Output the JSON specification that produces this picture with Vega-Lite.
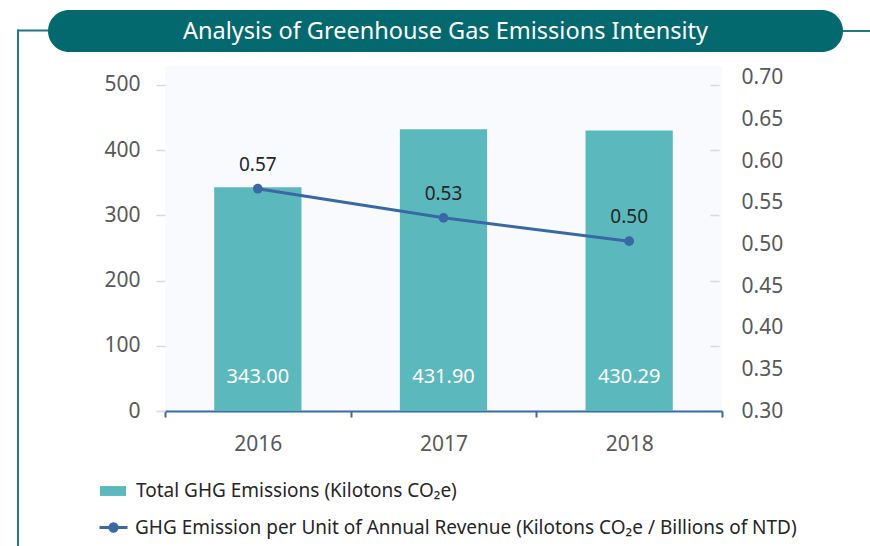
{
  "$schema": "https://vega.github.io/schema/vega-lite/v6.json",
  "background": "white",
  "padding": {"left": 17, "top": 10, "right": 0, "bottom": 0},
  "spacing": 0,
  "config": {
    "view": {"stroke": null},
    "font": "Noto Sans",
    "concat": {"spacing": 0}
  },
  "vconcat": [
    {
      "spacing": 0,
      "hconcat": [
        {
          "width": 31,
          "height": 56,
          "data": {"values": [{"part": "frame"}]},
          "layer": [
            {
              "mark": {"type": "rule", "color": "#20797f", "strokeWidth": 2, "clip": true},
              "encoding": {
                "y": {"datum": 0.6339, "scale": {"domain": [0, 1], "nice": false, "zero": false}, "axis": null},
                "x": {"datum": 0.032, "scale": {"domain": [0, 1], "nice": false, "zero": false}, "axis": null},
                "x2": {"datum": 1.1}
              }
            },
            {
              "mark": {"type": "rule", "color": "#20797f", "strokeWidth": 2, "clip": true},
              "encoding": {
                "x": {"datum": 0.032},
                "y": {"datum": 0.6518},
                "y2": {"datum": -0.1}
              }
            }
          ]
        },
        {
          "width": 795,
          "height": 42,
          "view": {"fill": "#04696f", "cornerRadius": 21, "stroke": null},
          "data": {"values": [{"title": "Analysis of Greenhouse Gas Emissions Intensity"}]},
          "mark": {"type": "text", "color": "white", "fontSize": 23.5, "baseline": "middle", "align": "center", "dy": 1},
          "encoding": {"text": {"field": "title", "type": "nominal"}}
        },
        {
          "width": 27,
          "height": 42,
          "data": {"values": [{"part": "frame"}]},
          "mark": {"type": "rule", "color": "#20797f", "strokeWidth": 2, "clip": true},
          "encoding": {
            "y": {"datum": 0.5, "scale": {"domain": [0, 1], "nice": false, "zero": false}, "axis": null}
          }
        }
      ]
    },
    {
      "spacing": 0,
      "hconcat": [
        {
          "width": 31,
          "height": 480,
          "data": {"values": [{"part": "frame"}]},
          "mark": {"type": "rule", "color": "#20797f", "strokeWidth": 2, "clip": true},
          "encoding": {
            "x": {"datum": 0.032, "scale": {"domain": [0, 1], "nice": false, "zero": false}, "axis": null},
            "y": {"datum": 1.1, "scale": {"domain": [0, 1], "nice": false, "zero": false}, "axis": null},
            "y2": {"datum": -0.1}
          }
        },
        {
          "width": 557,
          "height": 345,
          "view": {"fill": "#f9fafd", "stroke": null},
          "data": {"values": [
            {"year": "2016", "emissions": 343.00, "intensity": 0.567},
            {"year": "2017", "emissions": 431.90, "intensity": 0.532},
            {"year": "2018", "emissions": 430.29, "intensity": 0.504}
          ]},
          "encoding": {
            "x": {
              "field": "year",
              "type": "ordinal",
              "scale": {"paddingInner": 0, "paddingOuter": 0},
              "axis": {
                "title": null,
                "labelAngle": 0,
                "domainColor": "#3b6aa6",
                "domainWidth": 2,
                "tickColor": "#3b6aa6",
                "tickWidth": 2,
                "tickSize": 6,
                "tickBand": "extent",
                "labelFontSize": 21,
                "labelColor": "#595959",
                "labelPadding": 16
              }
            }
          },
          "layer": [
            {
              "layer": [
                {
                  "mark": {"type": "bar", "width": {"band": 0.47}},
                  "encoding": {
                    "y": {
                      "field": "emissions",
                      "type": "quantitative",
                      "scale": {"domain": [0, 529], "nice": false},
                      "axis": {
                        "orient": "left",
                        "title": null,
                        "values": [0, 100, 200, 300, 400, 500],
                        "domain": false,
                        "tickSize": 9,
                        "tickColor": "#d9d9d9",
                        "tickWidth": 1.5,
                        "labelFontSize": 21,
                        "labelColor": "#595959",
                        "labelPadding": 16,
                        "grid": true,
                        "gridColor": "#d9d9d9",
                        "gridWidth": 1.5,
                        "gridDash": [0, 545, 9, 100],
                        "minExtent": 117
                      }
                    },
                    "fill": {
                      "datum": "Total GHG Emissions (Kilotons CO₂e)",
                      "scale": {"range": ["#5bb9bd"]},
                      "legend": {
                        "orient": "none",
                        "legendX": 83,
                        "legendY": 468,
                        "title": null,
                        "padding": 0,
                        "symbolType": "M-1,-0.38H1V0.38H-1Z",
                        "symbolSize": 676,
                        "symbolStrokeWidth": 0,
                        "labelFontSize": 19,
                        "labelColor": "#262626",
                        "labelOffset": 10,
                        "labelLimit": 900
                      }
                    }
                  }
                },
                {
                  "mark": {"type": "text", "dy": -34.5, "color": "white", "fontSize": 20, "baseline": "middle"},
                  "encoding": {
                    "y": {"datum": 0},
                    "text": {"field": "emissions", "type": "quantitative", "format": ".2f"}
                  }
                }
              ]
            },
            {
              "layer": [
                {
                  "mark": {"type": "line", "strokeWidth": 3},
                  "encoding": {
                    "y": {
                      "field": "intensity",
                      "type": "quantitative",
                      "scale": {"domain": [0.3, 0.7144], "nice": false, "zero": false},
                      "axis": {
                        "orient": "right",
                        "title": null,
                        "values": [0.3, 0.35, 0.4, 0.45, 0.5, 0.55, 0.6, 0.65, 0.7],
                        "format": ".2f",
                        "domain": false,
                        "ticks": false,
                        "tickSize": 0,
                        "grid": false,
                        "labelPadding": 19,
                        "labelFontSize": 21,
                        "labelColor": "#595959"
                      }
                    },
                    "stroke": {
                      "datum": "GHG Emission per Unit of Annual Revenue (Kilotons CO₂e / Billions of NTD)",
                      "scale": {"range": ["#3a68a5"]},
                      "legend": {
                        "orient": "none",
                        "legendX": 81,
                        "legendY": 502,
                        "title": null,
                        "padding": 0,
                        "symbolType": "M-1,0H1M-0.26,0A0.26,0.26,0,1,1,0.26,0A0.26,0.26,0,1,1,-0.26,0Z",
                        "symbolSize": 784,
                        "labelFontSize": 19,
                        "labelColor": "#262626",
                        "labelOffset": 6,
                        "labelLimit": 900,
                        "encode": {
                          "symbols": {
                            "update": {
                              "fill": {"value": "#3a68a5"},
                              "stroke": {"value": "#3a68a5"},
                              "strokeWidth": {"value": 3}
                            }
                          }
                        }
                      }
                    }
                  }
                },
                {
                  "mark": {"type": "point", "filled": true, "size": 95, "color": "#3a68a5", "opacity": 1},
                  "encoding": {
                    "y": {"field": "intensity", "type": "quantitative"}
                  }
                },
                {
                  "mark": {"type": "text", "dy": -24, "fontSize": 19, "color": "#262626", "baseline": "middle"},
                  "encoding": {
                    "y": {"field": "intensity", "type": "quantitative"},
                    "text": {"field": "intensity", "type": "quantitative", "format": ".2f"}
                  }
                }
              ]
            }
          ],
          "resolve": {"scale": {"y": "independent"}}
        }
      ]
    }
  ]
}
